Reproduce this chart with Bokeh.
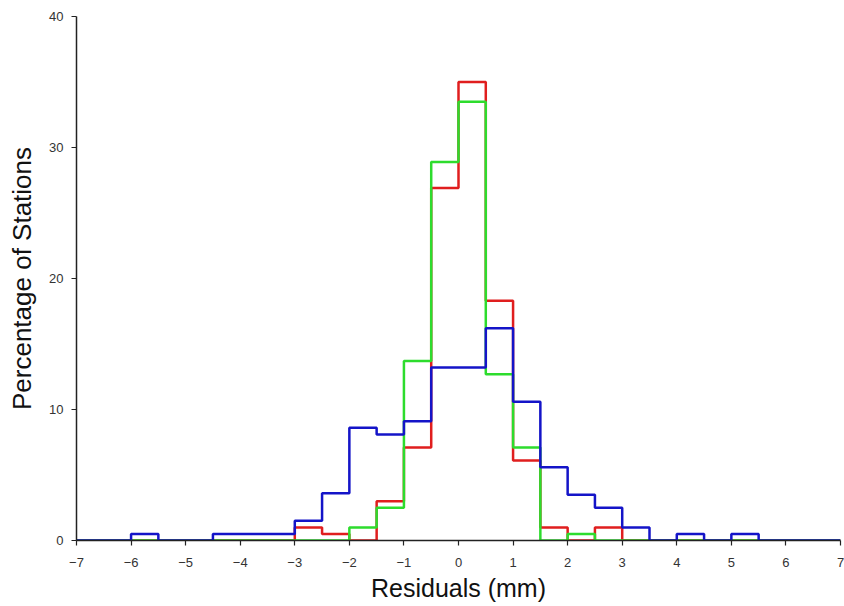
from bokeh.plotting import figure
from bokeh.models import Range1d, FixedTicker
from bokeh.embed import file_html
from bokeh.resources import INLINE

# Histogram data: bins of 0.5 mm from -7 to 7 (percentage of stations)
bin_edges = [-7 + 0.5 * i for i in range(29)]
red_vals = [0, 0, 0, 0, 0, 0, 0, 0, 1.0, 0.5, 0, 3.0, 7.1, 26.9, 35.0, 18.3,
            6.1, 1.0, 0, 1.0, 0, 0, 0, 0, 0, 0, 0, 0]
green_vals = [0, 0, 0, 0, 0, 0, 0, 0, 0, 0, 1.0, 2.5, 13.7, 28.9, 33.5, 12.7,
              7.1, 0, 0.5, 0, 0, 0, 0, 0, 0, 0, 0, 0]
blue_vals = [0, 0, 0.5, 0, 0, 0.5, 0.5, 0.5, 1.5, 3.6, 8.6, 8.1, 9.1, 13.2, 13.2, 16.2,
             10.6, 5.6, 3.5, 2.5, 1.0, 0, 0.5, 0, 0.5, 0, 0, 0]

x_ticks = [-7, -6, -5, -4, -3, -2, -1, 0, 1, 2, 3, 4, 5, 6, 7]
x_tick_labels = ["\u22127", "\u22126", "\u22125", "\u22124", "\u22123", "\u22122", "\u22121",
                 "0", "1", "2", "3", "4", "5", "6", "7"]
y_ticks = [0, 10, 20, 30, 40]

p = figure(width=844, height=606, output_backend="svg", toolbar_location=None,
           x_range=Range1d(-7, 7), y_range=Range1d(0, 40),
           min_border_left=76, min_border_right=4, min_border_top=16, min_border_bottom=66)

FONT = "Liberation Sans"
series = [(red_vals, "#e01e1e"), (green_vals, "#2ddc2d"), (blue_vals, "#1414c8")]
for vals, col in series:
    p.step(x=bin_edges, y=vals + [vals[-1]], mode="after", line_color=col, line_width=2.5)

p.xgrid.visible = False
p.ygrid.visible = False
p.outline_line_color = None

p.xaxis.ticker = FixedTicker(ticks=x_ticks)
p.xaxis.major_label_overrides = {t: l for t, l in zip(x_ticks, x_tick_labels)}
p.yaxis.ticker = FixedTicker(ticks=y_ticks)

for ax in (p.xaxis[0], p.yaxis[0]):
    ax.axis_line_color = "#222222"
    ax.axis_line_width = 1.5
    ax.major_tick_line_color = "#222222"
    ax.major_tick_line_width = 1.2
    ax.major_tick_out = 5
    ax.major_tick_in = 0
    ax.minor_tick_line_color = None
    ax.major_label_text_font = FONT
    ax.major_label_text_font_size = "13px"
    ax.major_label_text_color = "#333333"
    ax.axis_label_text_font = FONT
    ax.axis_label_text_font_style = "normal"
    ax.axis_label_text_color = "#111111"

p.xaxis.axis_label_text_font_size = "25px"
p.yaxis.axis_label_text_font_size = "26px"
p.xaxis.major_label_standoff = 12
p.yaxis.major_label_standoff = 8
p.xaxis.axis_label = "Residuals (mm)"
p.yaxis.axis_label = "Percentage of Stations"
p.xaxis.axis_label_standoff = 4
p.yaxis.axis_label_standoff = 9

open("out.html", "w").write(file_html(p, INLINE))
